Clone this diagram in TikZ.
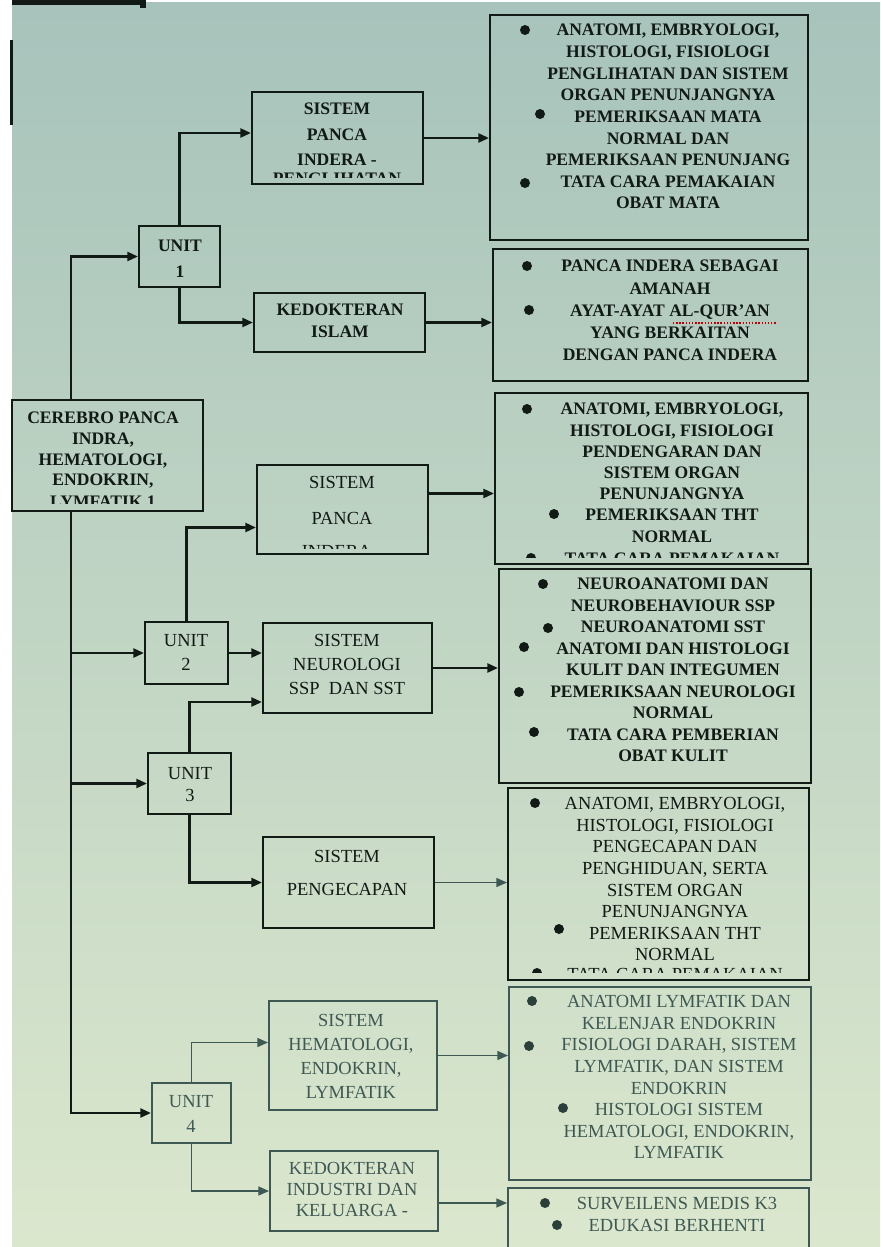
\documentclass[tikz,border=0pt]{standalone}
\usepackage{fontspec}
\setmainfont{Liberation Serif}
\usetikzlibrary{arrows.meta,fit,calc}

\definecolor{inkA}{HTML}{121A16}
\definecolor{inkB}{HTML}{3E5954}
\definecolor{bgtop}{HTML}{A7C3BB}
\definecolor{bgmid}{HTML}{C7DBC9}
\definecolor{bgbot}{HTML}{DBE7CD}

\newcommand\boldtxt[1]{\fontsize{10}{#1}\selectfont\bfseries}
\newcommand\plaintxt[1]{\fontsize{10.5}{#1}\selectfont}

\begin{document}
\begin{tikzpicture}[x=0.02cm, y=-0.02cm,
	box/.style = {draw=inkA, line width=1.1pt, inner sep=0pt},
	fbox/.style = {box, draw=inkB},
	txt/.style = {align=center, inner sep=0pt, anchor=north, text=inkA},
	ftxt/.style = {txt, text=inkB},
	conn/.style = {draw=inkA, line width=1.4pt, -{Triangle[length=6pt, width=5pt]}},
	fconn/.style = {conn, draw=inkB, line width=1pt}]
	
	%	page and screen
	\clip (0,0) rectangle (880,1247);
	\fill[white] (0,0) rectangle (880,1247);
	\shade[top color=bgtop, middle color=bgmid, bottom color=bgbot] (12,3) rectangle (880,1247);
	\fill[inkA] (12,0) rectangle (145,5);
	\fill[inkA] (140,0) rectangle (146,8);
	\fill[inkA] (10,40) rectangle (12.5,125);
	
	%	boxes
	\node[box, fit={(252,92) (423,184)}] (spi) {};
	\node[box, fit={(254,293) (425,352)}] (kedis) {};
	\node[box, fit={(139,226) (220,287)}] (u1) {};
	\node[box, fit={(12,400) (203,511)}] (cer) {};
	\node[box, fit={(257,465) (428,554)}] (sp2) {};
	\node[box, fit={(145,622) (228,684)}] (u2) {};
	\node[box, fit={(263,623) (432,713)}] (neuro) {};
	\node[box, fit={(148,753) (231,814)}] (u3) {};
	\node[box, fit={(263,837) (434,928)}] (peng) {};
	\node[fbox, fit={(269,1001) (437,1110)}] (hema) {};
	\node[fbox, fit={(152,1083) (231,1143)}] (u4) {};
	\node[fbox, fit={(270,1151) (438,1231)}] (ind) {};
	
	\node[box, fit={(490,15) (808,240)}] (r1) {};
	\node[box, fit={(493,249) (808,381)}] (r2) {};
	\node[box, fit={(495,393) (808,564)}] (r3) {};
	\node[box, fit={(499,569) (811,783)}] (r4) {};
	\node[box, fit={(508,788) (809,980)}] (r5) {};
	\node[fbox, fit={(509,987) (811,1180)}] (r6) {};
	\node[fbox, fit={(508,1188) (809,1300)}] (r7) {};
	
	%	middle column texts
	\node[txt, font={\boldtxt{14.5}}] (spi-t) at (337,103) {SISTEM\\PANCA\\INDERA -};
	\begin{scope}
		\clip (252,92) rectangle (423,177);
		\node[txt, font={\boldtxt{12}}] (spi-c) at (337,173) {PENGLIHATAN};
	\end{scope}
	\node[txt, font={\boldtxt{12.5}}] (kedis-t) at (340,304) {KEDOKTERAN\\ISLAM};
	\node[txt, font={\boldtxt{14.8}}] (u1-t) at (180,240) {UNIT\\1};
	\node[txt, font={\boldtxt{11.7}}] (cer-t) at (103,412) {CEREBRO PANCA\\INDRA,\\HEMATOLOGI,\\ENDOKRIN,};
	\begin{scope}
		\clip (12,400) rectangle (203,503);
		\node[txt, font={\boldtxt{12}}] (cer-c) at (103,496) {LYMFATIK 1};
	\end{scope}
	\node[txt, font={\plaintxt{20.5}}] (sp2-t) at (342,476) {SISTEM\\PANCA};
	\begin{scope}
		\clip (257,465) rectangle (428,548);
		\node[txt, font={\plaintxt{12}}] (sp2-c) at (342,545) {INDERA -};
	\end{scope}
	\node[txt, font={\plaintxt{13.7}}] (u2-t) at (186,634) {UNIT\\2};
	\node[txt, font={\plaintxt{13.7}}] (neuro-t) at (347,634) {SISTEM\\NEUROLOGI\\SSP~~DAN SST};
	\node[txt, font={\plaintxt{12.5}}] (u3-t) at (190,767) {UNIT\\3};
	\node[txt, font={\plaintxt{18.8}}] (peng-t) at (347,850) {SISTEM\\PENGECAPAN};
	\node[ftxt, font={\plaintxt{13.7}}] (hema-t) at (351,1014) {SISTEM\\HEMATOLOGI,\\ENDOKRIN,\\LYMFATIK};
	\node[ftxt, font={\plaintxt{14.2}}] (u4-t) at (191,1095) {UNIT\\4};
	\node[ftxt, font={\plaintxt{12}}] (ind-t) at (352,1162) {KEDOKTERAN\\INDUSTRI DAN\\KELUARGA -};
	
	%	right column texts
	\node[txt, font={\boldtxt{12.3}}] (r1-t) at (668,24) {ANATOMI, EMBRYOLOGI,\\HISTOLOGI, FISIOLOGI\\PENGLIHATAN DAN SISTEM\\ORGAN PENUNJANGNYA\\PEMERIKSAAN MATA\\NORMAL DAN\\PEMERIKSAAN PENUNJANG\\TATA CARA PEMAKAIAN\\OBAT MATA};
	\node[txt, font={\boldtxt{12.66}}] (r2-t) at (670,260) {PANCA INDERA SEBAGAI\\AMANAH\\AYAT-AYAT AL-QUR'AN\\YANG BERKAITAN\\DENGAN PANCA INDERA};
	\draw[red!75!black, densely dotted, line width=0.8pt] (673,323) -- (777,323);
	\node[txt, font={\boldtxt{12.05}}] (r3-t) at (672,403) {ANATOMI, EMBRYOLOGI,\\HISTOLOGI, FISIOLOGI\\PENDENGARAN DAN\\SISTEM ORGAN\\PENUNJANGNYA\\PEMERIKSAAN THT\\NORMAL};
	\begin{scope}
		\clip (495,393) rectangle (808,557);
		\node[txt, font={\boldtxt{12}}] (r3-c) at (672,553) {TATA CARA PEMAKAIAN};
		\fill[inkA] (531,558) circle (5);
	\end{scope}
	\node[txt, font={\boldtxt{12.2}}] (r4-t) at (673,578) {NEUROANATOMI DAN\\NEUROBEHAVIOUR SSP\\NEUROANATOMI SST\\ANATOMI DAN HISTOLOGI\\KULIT DAN INTEGUMEN\\PEMERIKSAAN NEUROLOGI\\NORMAL\\TATA CARA PEMBERIAN\\OBAT KULIT};
	\node[txt, font={\plaintxt{12.3}}] (r5-t) at (675,797) {ANATOMI, EMBRYOLOGI,\\HISTOLOGI, FISIOLOGI\\PENGECAPAN DAN\\PENGHIDUAN, SERTA\\SISTEM ORGAN\\PENUNJANGNYA\\PEMERIKSAAN THT\\NORMAL};
	\begin{scope}
		\clip (508,788) rectangle (809,972);
		\node[txt, font={\plaintxt{12}}] (r5-c) at (675,968) {TATA CARA PEMAKAIAN};
		\fill[inkA] (537,973) circle (5);
	\end{scope}
	\node[ftxt, font={\plaintxt{12.3}}] (r6-t) at (679,995) {ANATOMI LYMFATIK DAN\\KELENJAR ENDOKRIN\\FISIOLOGI DARAH, SISTEM\\LYMFATIK, DAN SISTEM\\ENDOKRIN\\HISTOLOGI SISTEM\\HEMATOLOGI, ENDOKRIN,\\LYMFATIK};
	\node[ftxt, font={\plaintxt{12.5}}] (r7-t) at (677,1197) {SURVEILENS MEDIS K3\\EDUKASI BERHENTI};
	
	%	bullets
	\foreach \bx/\by in {525/30, 540/114, 525/183, 527/266, 529/310, 527/409, 554/514,
		543/584, 548/628, 524/647, 519/692, 534/732, 535/803, 559/929}
		\fill[inkA] (\bx,\by) circle (5);
	\foreach \bx/\by in {532/1001, 529/1046, 563/1108, 545/1203, 557/1225}
		\fill[inkB!60!inkA] (\bx,\by) circle (5);
	
	%	trunk
	\coordinate (trk) at (71,0);
	\draw[conn] (cer.north -| trk) |- (u1.west);
	\draw[conn] (cer.south -| trk) |- (u2.west);
	\draw[conn] (cer.south -| trk) |- (u3.west);
	\draw[conn] (cer.south -| trk) |- (u4.west);
	
	%	units to subjects
	\coordinate (spi-in) at ($(spi.west)+(0,-5)$);
	\coordinate (sp2-in) at ($(sp2.west)+(0,18)$);
	\coordinate (neuro-in) at ($(neuro.west)+(0,34)$);
	\coordinate (hema-in) at ($(hema.west)+(0,-13)$);
	\draw[conn] (u1.north) |- (spi-in);
	\draw[conn] (u1.south) |- (kedis.west);
	\draw[conn] (u2.north) |- (sp2-in);
	\draw[conn] (u2.east) -- (u2.east -| neuro.west);
	\draw[conn] (u3.north) |- (neuro-in);
	\draw[conn] (u3.south) |- (peng.west);
	\draw[fconn] (u4.north) |- (hema-in);
	\draw[fconn] (u4.south) |- (ind.west);
	
	%	subjects to topics
	\coordinate (sp2-out) at ($(sp2.east)+(0,-16)$);
	\coordinate (ind-out) at ($(ind.east)+(0,12)$);
	\draw[conn] (spi.east) -- (spi.east -| r1.west);
	\draw[conn] (kedis.east) -- (kedis.east -| r2.west);
	\draw[conn] (sp2-out) -- (sp2-out -| r3.west);
	\draw[conn] (neuro.east) -- (neuro.east -| r4.west);
	\draw[fconn] (peng.east) -- (peng.east -| r5.west);
	\draw[fconn] (hema.east) -- (hema.east -| r6.west);
	\draw[fconn] (ind-out) -- (ind-out -| r7.west);
\end{tikzpicture}
\end{document}
